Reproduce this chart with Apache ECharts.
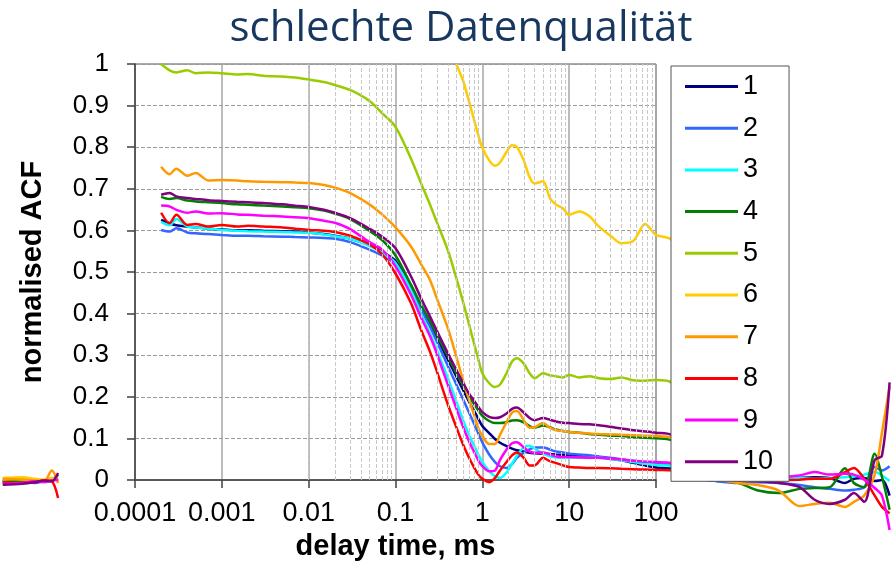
<!DOCTYPE html>
<html>
<head>
<meta charset="utf-8">
<script src="https://cdn.jsdelivr.net/npm/echarts@6/dist/echarts.min.js"></script>
<style>
  html, body { margin: 0; padding: 0; background: #fff; }
  #chart { width: 896px; height: 566px; }
</style>
</head>
<body>
<div id="chart"></div>
<script>
// delay times (ms) of the main part of the curves
const times = [0.0002, 0.00025, 0.0003, 0.0004, 0.0005, 0.0007, 0.001, 0.0015, 0.002, 0.003,
  0.005, 0.007, 0.01, 0.015, 0.02, 0.03, 0.05, 0.07, 0.1, 0.15,
  0.2, 0.25, 0.3, 0.4, 0.5, 0.6, 0.7, 0.8, 0.9, 1,
  1.2, 1.4, 1.6, 1.9, 2.2, 2.5, 3, 3.5, 4, 5,
  6, 7, 8.5, 10, 13, 17, 22, 30, 40, 55, 75, 100]
// bits that spill out of the plot area on the left and right
const leadTimes = [3e-6, 5e-6, 7e-6, 9e-6, 1.1e-5, 1.3e-5]
const tailTimes = [150, 200, 300, 500, 900, 1500, 2600, 4500, 6700, 10000, 15000, 19000, 25000, 33000, 40000, 49000]

const acf1 = [0.628, 0.62, 0.615, 0.612, 0.61, 0.607, 0.605, 0.603, 0.603, 0.602,
  0.601, 0.6, 0.598, 0.594, 0.59, 0.583, 0.568, 0.552, 0.53, 0.468,
  0.417, 0.379, 0.346, 0.295, 0.255, 0.222, 0.195, 0.173, 0.153, 0.136,
  0.119, 0.105, 0.096, 0.088, 0.082, 0.078, 0.075, 0.072, 0.071, 0.07,
  0.069, 0.068, 0.067, 0.066, 0.065, 0.064, 0.062, 0.058, 0.054, 0.048, 0.042, 0.037]
const acf2 = [0.604, 0.6, 0.608, 0.598, 0.596, 0.594, 0.592, 0.59, 0.59, 0.589,
  0.588, 0.587, 0.586, 0.585, 0.583, 0.575, 0.557, 0.543, 0.522, 0.466,
  0.412, 0.373, 0.337, 0.28, 0.236, 0.2, 0.169, 0.142, 0.118, 0.097,
  0.068, 0.05, 0.04, 0.036, 0.045, 0.06, 0.072, 0.08, 0.085, 0.085,
  0.08, 0.075, 0.073, 0.07, 0.068, 0.066, 0.063, 0.06, 0.057, 0.053, 0.05, 0.046]
const acf3 = [0.623, 0.615, 0.63, 0.612, 0.61, 0.607, 0.604, 0.602, 0.601, 0.6,
  0.599, 0.598, 0.597, 0.593, 0.589, 0.583, 0.566, 0.55, 0.525, 0.46,
  0.4, 0.357, 0.317, 0.251, 0.196, 0.15, 0.115, 0.09, 0.068, 0.05,
  0.028, 0.016, 0.012, 0.025, 0.046, 0.065, 0.085, 0.089, 0.082, 0.07,
  0.064, 0.061, 0.06, 0.06, 0.06, 0.06, 0.06, 0.057, 0.054, 0.05, 0.046, 0.043]
const acf4 = [0.683, 0.678, 0.68, 0.674, 0.672, 0.67, 0.668, 0.665, 0.664, 0.662,
  0.66, 0.658, 0.656, 0.65, 0.643, 0.63, 0.602, 0.58, 0.543, 0.474,
  0.423, 0.386, 0.354, 0.303, 0.263, 0.232, 0.207, 0.189, 0.173, 0.16,
  0.148, 0.143, 0.143, 0.145, 0.149, 0.15, 0.145, 0.136, 0.132, 0.137,
  0.133, 0.128, 0.124, 0.122, 0.12, 0.117, 0.115, 0.113, 0.112, 0.11, 0.108, 0.107]
const acf5 = [1.0, 0.985, 0.98, 0.985, 0.978, 0.98, 0.978, 0.975, 0.976, 0.972,
  0.97, 0.968, 0.963, 0.957, 0.95, 0.938, 0.912, 0.883, 0.85, 0.775,
  0.712, 0.664, 0.622, 0.556, 0.49, 0.432, 0.38, 0.334, 0.295, 0.262,
  0.238, 0.229, 0.235, 0.262, 0.29, 0.298, 0.285, 0.262, 0.25, 0.262,
  0.257, 0.255, 0.252, 0.258, 0.252, 0.255, 0.25, 0.248, 0.252, 0.245, 0.244, 0.246]
const acf6 = [null, null, null, null, null, null, null, null, null, null,
  null, null, null, null, null, null, null, null, null, null,
  null, null, null, null, 1.0, 0.96, 0.912, 0.868, 0.83, 0.8,
  0.77, 0.757, 0.765, 0.79, 0.806, 0.802, 0.77, 0.73, 0.715, 0.72,
  0.68, 0.665, 0.655, 0.64, 0.648, 0.637, 0.612, 0.59, 0.572, 0.578, 0.618, 0.592]
const acf7 = [0.755, 0.737, 0.75, 0.733, 0.74, 0.722, 0.723, 0.722, 0.72, 0.719,
  0.718, 0.717, 0.716, 0.711, 0.705, 0.692, 0.665, 0.641, 0.61, 0.565,
  0.52, 0.484, 0.44, 0.37, 0.303, 0.245, 0.2, 0.163, 0.131, 0.112,
  0.093, 0.093, 0.115, 0.145, 0.168, 0.172, 0.15, 0.132, 0.133, 0.143,
  0.132, 0.126, 0.124, 0.122, 0.12, 0.118, 0.117, 0.116, 0.115, 0.114, 0.113, 0.112]
const acf8 = [0.645, 0.62, 0.64, 0.616, 0.618, 0.612, 0.616, 0.612, 0.614, 0.612,
  0.61, 0.607, 0.604, 0.602, 0.599, 0.59, 0.57, 0.546, 0.5, 0.43,
  0.362, 0.313, 0.266, 0.188, 0.134, 0.092, 0.061, 0.038, 0.02, 0.01,
  0.002, 0.012, 0.03, 0.05, 0.066, 0.073, 0.06, 0.042, 0.042, 0.06,
  0.052, 0.048, 0.042, 0.038, 0.037, 0.036, 0.036, 0.035, 0.034, 0.033, 0.032, 0.031]
const acf9 = [0.662, 0.66, 0.652, 0.645, 0.648, 0.643, 0.644, 0.641, 0.64, 0.638,
  0.636, 0.634, 0.632, 0.626, 0.621, 0.606, 0.575, 0.557, 0.517, 0.45,
  0.392, 0.35, 0.308, 0.235, 0.179, 0.134, 0.1, 0.075, 0.054, 0.04,
  0.028, 0.03, 0.055, 0.08, 0.095, 0.097, 0.085, 0.075, 0.072, 0.073,
  0.068, 0.064, 0.062, 0.062, 0.061, 0.06, 0.06, 0.058, 0.056, 0.053, 0.051, 0.05]
const acf10 = [0.688, 0.692, 0.684, 0.68, 0.678, 0.675, 0.673, 0.671, 0.67, 0.668,
  0.665, 0.662, 0.659, 0.652, 0.645, 0.632, 0.607, 0.588, 0.56, 0.494,
  0.438, 0.397, 0.363, 0.31, 0.271, 0.239, 0.214, 0.197, 0.182, 0.169,
  0.158, 0.155, 0.157, 0.166, 0.177, 0.18, 0.168, 0.155, 0.15, 0.155,
  0.151, 0.147, 0.144, 0.143, 0.141, 0.14, 0.138, 0.134, 0.13, 0.126, 0.123, 0.12]

const lead1 = [0.005, 0.003, 0.004, 0.006, 0.008, 0.01]
const lead2 = [0.0, 0.002, 0.0, 0.004, 0.006, 0.01]
const lead3 = [0.008, 0.006, 0.006, 0.004, 0.012, 0.014]
const lead4 = [0.004, 0.006, 0.002, 0.004, 0.006, 0.02]
const lead5 = [0.008, 0.01, 0.008, 0.006, 0.01, 0.012]
const lead6 = [0.012, 0.014, 0.01, 0.008, 0.012, 0.004]
const lead7 = [0.01, 0.008, 0.006, 0.004, 0.03, 0.0]
const lead8 = [0.002, 0.0, 0.002, 0.006, 0.004, -0.036]
const lead9 = [-0.002, 0.0, 0.004, 0.002, 0.006, 0.008]
const lead10 = [-0.004, -0.002, 0.002, 0.006, 0.004, 0.024]

const tail1 = [0.034, 0.025, 0.012, 0.005, 0.004, 0.006, 0.008, 0.012, 0.014, 0.012, 0.0, 0.01, 0.012, 0.005, 0.007, -0.03]
const tail2 = [0.044, 0.034, 0.015, 0.005, 0.0, 0.002, 0.0, -0.005, -0.01, -0.014, -0.018, -0.016, -0.01, 0.038, 0.03, 0.04]
const tail3 = [0.041, 0.032, 0.018, 0.01, 0.008, 0.008, 0.01, 0.012, 0.01, 0.012, 0.014, 0.016, 0.02, 0.026, 0.018, 0.005]
const tail4 = [0.102, 0.075, 0.035, 0.01, 0.0, -0.018, -0.024, -0.014, -0.012, -0.01, 0.035, 0.0, -0.01, 0.07, 0.015, -0.064]
const tail5 = [0.24, 0.18, 0.08, 0.03, 0.02, 0.02, null, null, null, null, null, null, null, null, null, null]
const tail6 = [0.58, 0.48, 0.25, 0.08, 0.03, 0.02, null, null, null, null, null, null, null, null, null, null]
const tail7 = [0.108, 0.08, 0.035, 0.01, 0.0, -0.005, -0.018, -0.055, -0.05, -0.047, -0.057, -0.045, -0.03, 0.02, 0.12, 0.23]
const tail8 = [0.03, 0.025, 0.016, 0.01, 0.006, 0.005, 0.006, 0.008, 0.01, 0.01, 0.026, 0.036, 0.01, -0.03, -0.057, -0.072]
const tail9 = [0.048, 0.04, 0.027, 0.02, 0.018, 0.016, 0.015, 0.018, 0.026, 0.02, 0.022, 0.02, 0.008, -0.012, -0.03, -0.112]
const tail10 = [0.115, 0.09, 0.045, 0.02, 0.01, 0.005, 0.0, -0.01, -0.04, -0.05, -0.04, -0.024, -0.045, 0.055, 0.065, 0.24]

const names = ['1', '2', '3', '4', '5', '6', '7', '8', '9', '10']
const colors = ['#000080', '#3366FF', '#00FFFF', '#008000', '#99CC00', '#FFCC00', '#FF9900', '#FF0000', '#FF00FF', '#800080']
const acfs = [acf1, acf2, acf3, acf4, acf5, acf6, acf7, acf8, acf9, acf10]
const leads = [lead1, lead2, lead3, lead4, lead5, lead6, lead7, lead8, lead9, lead10]
const tails = [tail1, tail2, tail3, tail4, tail5, tail6, tail7, tail8, tail9, tail10]

const font = 'Liberation Sans'

// plot area in pixels; the curves run on a hidden full-width log axis with the same scale
const W = 896
const plotLeft = 135
const plotRight = 656
const decadePx = (plotRight - plotLeft) / 6
const fullMin = Math.pow(10, -4 - plotLeft / decadePx)
const fullMax = Math.pow(10, 2 + (W - plotRight) / decadePx)

// dashed lines at 2..9 of each decade
let minorLines = []
for (let d = -4; d < 2; d++) {
  for (let m = 2; m <= 9; m++) {
    minorLines.push({ xAxis: +(m * Math.pow(10, d)).toPrecision(6) })
  }
}

function points (i) {
  let pts = []
  leadTimes.forEach(function (t, k) { pts.push([t, leads[i][k]]) })
  pts.push([2e-5, null])
  times.forEach(function (t, k) { pts.push([t, acfs[i][k]]) })
  tailTimes.forEach(function (t, k) { pts.push([t, tails[i][k]]) })
  return pts
}

let series = [{
  type: 'line',
  data: [],
  silent: true,
  z: 1,
  markLine: {
    silent: true,
    symbol: 'none',
    animation: false,
    label: { show: false },
    lineStyle: { color: '#C8C8C8', type: 'dashed', width: 1 },
    data: minorLines
  }
}]
names.forEach(function (n, i) {
  series.push({
    name: n,
    type: 'line',
    xAxisIndex: 1,
    yAxisIndex: 1,
    data: points(i),
    symbol: 'none',
    smooth: 0.3,
    clip: false,
    z: 3,
    lineStyle: { width: 2.5, color: colors[i] },
    itemStyle: { color: colors[i] }
  })
})

let chart = echarts.init(document.getElementById('chart'))
chart.setOption({
  animation: false,
  backgroundColor: '#fff',
  title: {
    text: 'schlechte Datenqualität',
    left: 456,
    top: 3,
    textAlign: 'center',
    textStyle: { fontFamily: 'Open Sans', fontSize: 42, fontWeight: 'normal', color: '#17375E' }
  },
  legend: {
    data: names,
    orient: 'vertical',
    left: 671,
    top: 66,
    padding: [7, 16, 6, 14],
    itemWidth: 53,
    itemHeight: 3,
    itemGap: 14.7,
    icon: 'rect',
    backgroundColor: '#fff',
    borderColor: '#555',
    borderWidth: 1,
    z: 10,
    textStyle: { fontFamily: font, fontSize: 27, color: '#000' }
  },
  grid: [{
    left: plotLeft,
    right: W - plotRight,
    top: 64,
    bottom: 83,
    show: true,
    borderColor: '#555',
    borderWidth: 1
  }, {
    left: 0,
    right: 0,
    top: 64,
    bottom: 83
  }],
  xAxis: [{
    type: 'log',
    logBase: 10,
    min: 0.0001,
    max: 100,
    splitNumber: 6,
    name: 'delay time, ms',
    nameLocation: 'middle',
    nameGap: 52,
    nameTextStyle: { fontFamily: font, fontSize: 29, fontWeight: 'bold', color: '#000' },
    axisLine: { show: true, lineStyle: { color: '#404040', width: 1.5 } },
    axisTick: { show: true, length: 8, lineStyle: { color: '#404040', width: 1.5 } },
    axisLabel: {
      fontFamily: font, fontSize: 27, color: '#000', margin: 20,
      formatter: function (v) { return String(+v.toPrecision(6)) }
    },
    splitLine: { show: true, lineStyle: { color: '#A6A6A6', width: 1.5 } }
  }, {
    type: 'log',
    logBase: 10,
    gridIndex: 1,
    min: fullMin,
    max: fullMax,
    show: false
  }],
  yAxis: [{
    type: 'value',
    min: 0,
    max: 1,
    interval: 0.1,
    name: 'normalised ACF',
    nameLocation: 'middle',
    nameGap: 88,
    nameTextStyle: { fontFamily: font, fontSize: 29, fontWeight: 'bold', color: '#000' },
    axisLine: { show: true, lineStyle: { color: '#404040', width: 1.5 } },
    axisTick: { show: true, length: 8, lineStyle: { color: '#404040', width: 1.5 } },
    axisLabel: {
      fontFamily: font, fontSize: 26, color: '#000', margin: 26,
      formatter: function (v) { return String(+v.toFixed(1)) }
    },
    splitLine: { show: true, lineStyle: { color: '#9A9A9A', type: 'dashed', width: 1 } }
  }, {
    type: 'value',
    gridIndex: 1,
    min: 0,
    max: 1,
    show: false
  }],
  series: series
})
</script>
</body>
</html>
